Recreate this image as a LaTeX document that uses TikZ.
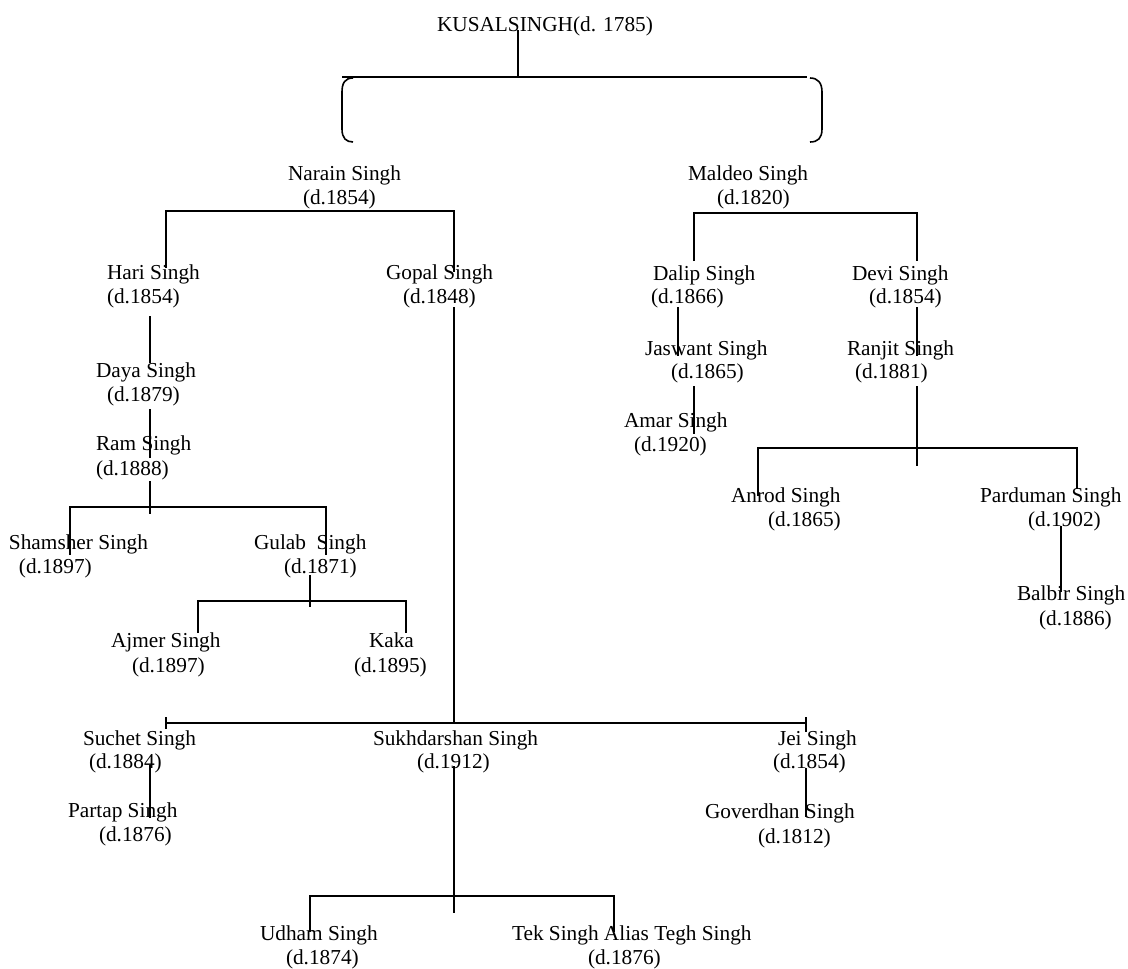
\documentclass[tikz,border=0pt]{standalone}
\usepackage{fontspec}
\setmainfont{Liberation Serif}
\begin{document}
\begin{tikzpicture}[x=1pt,y=-1pt]
\tikzset{
  lbl/.style={anchor=base west, inner sep=0pt, outer sep=0pt, font=\fontsize{21.3}{24}\selectfont},
  conn/.style={line width=1.6pt, line cap=butt}
}
\useasboundingbox (0,0) rectangle (1128,969);
% ---- texts ----
\node[lbl] (kusal) at (437,31) {KUSALSINGH(d. 1785)};
\node[lbl] (narain) at (288,180) {Narain Singh};
\node[lbl] (narain-d) at (303,204) {(d.1854)};
\node[lbl] (maldeo) at (688,180) {Maldeo Singh};
\node[lbl] (maldeo-d) at (717,204) {(d.1820)};
\node[lbl] (hari) at (107,279) {Hari Singh};
\node[lbl] (hari-d) at (107,303) {(d.1854)};
\node[lbl] (gopal) at (386,279) {Gopal Singh};
\node[lbl] (gopal-d) at (403,303) {(d.1848)};
\node[lbl] (dalip) at (653,280) {Dalip Singh};
\node[lbl] (dalip-d) at (651,303) {(d.1866)};
\node[lbl] (devi) at (852,280) {Devi Singh};
\node[lbl] (devi-d) at (869,303) {(d.1854)};
\node[lbl] (daya) at (96,377) {Daya Singh};
\node[lbl] (daya-d) at (107,401) {(d.1879)};
\node[lbl] (jaswant) at (645,355) {Jaswant Singh};
\node[lbl] (jaswant-d) at (671,378) {(d.1865)};
\node[lbl] (ranjit) at (847,355) {Ranjit Singh};
\node[lbl] (ranjit-d) at (855,378) {(d.1881)};
\node[lbl] (ram) at (96,450) {Ram Singh};
\node[lbl] (ram-d) at (96,475) {(d.1888)};
\node[lbl] (amar) at (624,427) {Amar Singh};
\node[lbl] (amar-d) at (634,451) {(d.1920)};
\node[lbl] (anrod) at (731,502) {Anrod Singh};
\node[lbl] (anrod-d) at (768,526) {(d.1865)};
\node[lbl] (parduman) at (980,502) {Parduman Singh};
\node[lbl] (parduman-d) at (1028,526) {(d.1902)};
\node[lbl] (shamsher) at (9,549) {Shamsher Singh};
\node[lbl] (shamsher-d) at (19,573) {(d.1897)};
\node[lbl] (gulab) at (254,549) {Gulab~~Singh};
\node[lbl] (gulab-d) at (284,573) {(d.1871)};
\node[lbl] (balbir) at (1017,600) {Balbir Singh};
\node[lbl] (balbir-d) at (1039,625) {(d.1886)};
\node[lbl] (ajmer) at (111,647) {Ajmer Singh};
\node[lbl] (ajmer-d) at (132,672) {(d.1897)};
\node[lbl] (kaka) at (369,647) {Kaka};
\node[lbl] (kaka-d) at (354,672) {(d.1895)};
\node[lbl] (suchet) at (83,745) {Suchet Singh};
\node[lbl] (suchet-d) at (89,768) {(d.1884)};
\node[lbl] (sukh) at (373,745) {Sukhdarshan Singh};
\node[lbl] (sukh-d) at (417,768) {(d.1912)};
\node[lbl] (jei) at (778,745) {Jei Singh};
\node[lbl] (jei-d) at (773,768) {(d.1854)};
\node[lbl] (partap) at (68,817) {Partap Singh};
\node[lbl] (partap-d) at (99,841) {(d.1876)};
\node[lbl] (goverdhan) at (705,818) {Goverdhan Singh};
\node[lbl] (goverdhan-d) at (758,843) {(d.1812)};
\node[lbl] (udham) at (260,940) {Udham Singh};
\node[lbl] (udham-d) at (286,964) {(d.1874)};
\node[lbl] (tek) at (512,940) {Tek Singh Alias Tegh Singh};
\node[lbl] (tek-d) at (588,964) {(d.1876)};
% ---- junction coordinates ----
\coordinate (kTop) at (518,30);   \coordinate (kBar) at (518,77);
\coordinate (barL) at (342,77);   \coordinate (barR) at (807,77);
\coordinate (nL) at (166,211);    \coordinate (nR) at (454,211);
\coordinate (hariTop) at (166,268); \coordinate (gopTop) at (454,272);
\coordinate (gopBot) at (454,307);
\coordinate (sL) at (166,723);    \coordinate (sM) at (454,723); \coordinate (sR) at (806,723);
\coordinate (sLt) at (166,717);   \coordinate (sLb) at (166,729);
\coordinate (sRt) at (806,717);   \coordinate (sRb) at (806,732);
\coordinate (sukBot) at (454,766); \coordinate (sukEnd) at (454,913);
\coordinate (uL) at (310,896);    \coordinate (uR) at (614,896);
\coordinate (udTop) at (310,932); \coordinate (tekTop) at (614,932);
\coordinate (suBot) at (150,765); \coordinate (paTop) at (150,818);
\coordinate (jeBot) at (806,768); \coordinate (goTop) at (806,817);
\coordinate (haBot) at (150,316); \coordinate (daTop) at (150,363);
\coordinate (daBot) at (150,409); \coordinate (raTop) at (150,458);
\coordinate (raBot) at (150,481); \coordinate (raEnd) at (150,514);
\coordinate (rL) at (70,507);     \coordinate (rR) at (326,507);
\coordinate (shTop) at (70,555);  \coordinate (guTop) at (326,555);
\coordinate (guBot) at (310,575); \coordinate (guEnd) at (310,607);
\coordinate (gL) at (198,601);    \coordinate (gR) at (406,601);
\coordinate (ajTop) at (198,633); \coordinate (kaTop) at (406,633);
\coordinate (mL) at (694,213);    \coordinate (mR) at (917,213);
\coordinate (dlTop) at (694,261); \coordinate (dvTop) at (917,261);
\coordinate (dvBot) at (917,307); \coordinate (rjTop) at (917,356);
\coordinate (rjBot) at (917,386); \coordinate (rjEnd) at (917,466);
\coordinate (aL) at (758,448);    \coordinate (aR) at (1077,448);
\coordinate (anTop) at (758,496); \coordinate (pdTop) at (1077,489);
\coordinate (pdBot) at (1061,526); \coordinate (baTop) at (1061,592);
\coordinate (dlBot) at (678,307); \coordinate (jaTop) at (678,356);
\coordinate (jaBot) at (694,386); \coordinate (amTop) at (694,434);
% ---- connectors ----
\draw[conn] (kTop) -- (kBar);
\draw[conn] (barL) -- (barR);
\draw[conn] (353,78) .. controls (345,78) and (342,83) .. (342,92) -- (342,129) .. controls (342,138) and (346,142) .. (353,142);
\draw[conn] (810,78) .. controls (818,78) and (822,83) .. (822,92) -- (822,129) .. controls (822,138) and (818,142) .. (810,142);
\draw[conn] (hariTop) -- (nL) -- (nR) -- (gopTop);
\draw[conn] (gopBot) -- (sM);
\draw[conn] (sL) -- (sR);
\draw[conn] (sLt) -- (sLb);
\draw[conn] (sRt) -- (sRb);
\draw[conn] (sukBot) -- (sukEnd);
\draw[conn] (udTop) -- (uL) -- (uR) -- (tekTop);
\draw[conn] (suBot) -- (paTop);
\draw[conn] (jeBot) -- (goTop);
\draw[conn] (haBot) -- (daTop);
\draw[conn] (daBot) -- (raTop);
\draw[conn] (raBot) -- (raEnd);
\draw[conn] (shTop) -- (rL) -- (rR) -- (guTop);
\draw[conn] (guBot) -- (guEnd);
\draw[conn] (ajTop) -- (gL) -- (gR) -- (kaTop);
\draw[conn] (dlTop) -- (mL) -- (mR) -- (dvTop);
\draw[conn] (dvBot) -- (rjTop);
\draw[conn] (rjBot) -- (rjEnd);
\draw[conn] (anTop) -- (aL) -- (aR) -- (pdTop);
\draw[conn] (pdBot) -- (baTop);
\draw[conn] (dlBot) -- (jaTop);
\draw[conn] (jaBot) -- (amTop);
\end{tikzpicture}
\end{document}
